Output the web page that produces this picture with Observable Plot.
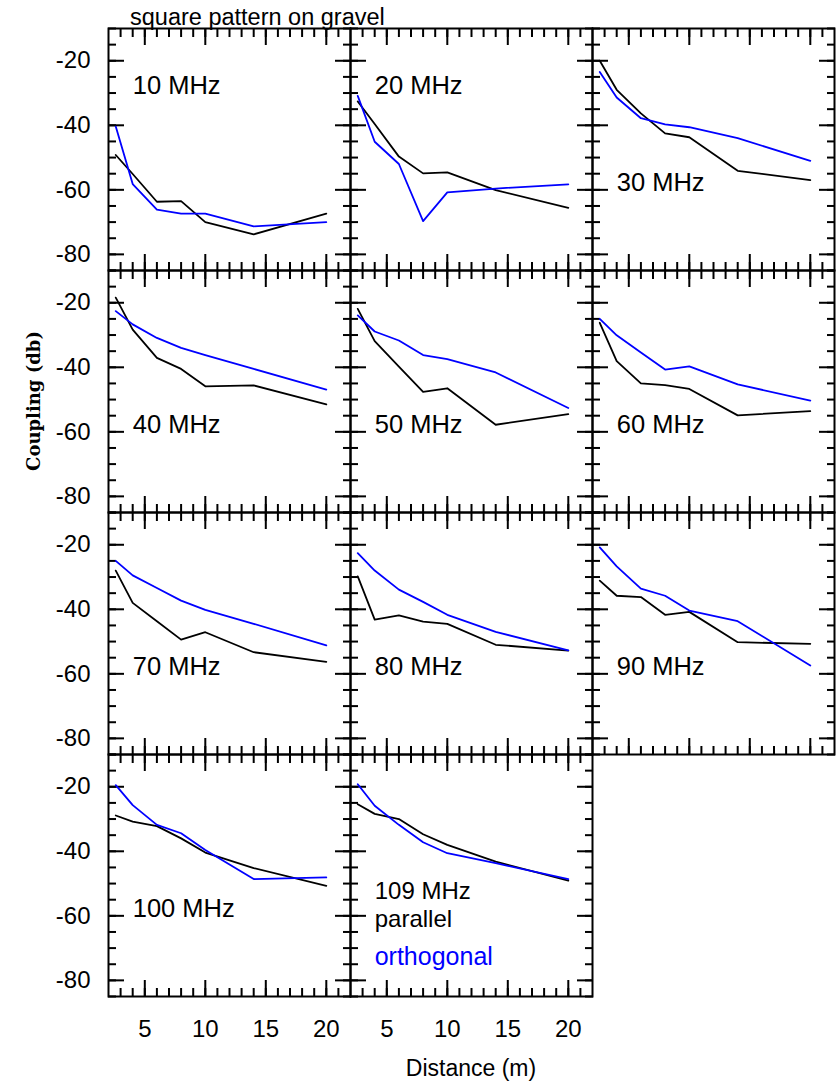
<!DOCTYPE html>
<html><head><meta charset="utf-8">
<script src="https://cdn.jsdelivr.net/npm/d3@7"></script>
<script src="https://cdn.jsdelivr.net/npm/@observablehq/plot@0.6"></script>
<style>
body{margin:0;background:#fff;}
#chart{position:relative;width:836px;height:1087px;font-family:"Liberation Sans",Arial,sans-serif;color:#000;overflow:hidden;}
.title{position:absolute;left:130px;top:6px;font-size:23.5px;line-height:1;white-space:nowrap;}
.ylab{position:absolute;left:33px;top:401px;transform:translate(-50%,-50%) rotate(-90deg);font-family:"DejaVu Serif",serif;font-weight:bold;font-size:18px;color:#000;white-space:nowrap;}
.xlab{position:absolute;left:471px;top:1057px;transform:translateX(-50%);font-size:23px;line-height:1;white-space:nowrap;}
</style></head><body>
<div id="chart">
  <div class="title" id="title"></div>
  <div class="ylab" id="ylab"></div>
  <div class="xlab" id="xlab"></div>
</div>
<script>
// ---- data ----
const titleText = "square pattern on gravel";
const xTitle = "Distance (m)";
const yTitle = "Coupling (db)";
const seriesNames = ["parallel", "orthogonal"];
const freqLabels = ["10 MHz","20 MHz","30 MHz","40 MHz","50 MHz","60 MHz","70 MHz","80 MHz","90 MHz","100 MHz","109 MHz"];
const distance = [2.6, 4, 6, 8, 10, 14, 20];
const xMajorTicks = [5, 10, 15, 20];
const yMajorTicks = [-80, -60, -40, -20];

const par10  = [-49.2, -55.1, -63.7, -63.5, -70.0, -73.8, -67.4];
const orth10 = [-40.4, -58.2, -66.1, -67.4, -67.4, -71.3, -70.0];
const par20  = [-32.6, -39.6, -49.7, -54.9, -54.6, -60.1, -65.6];
const orth20 = [-30.9, -45.1, -52.0, -69.7, -60.8, -59.6, -58.3];
const par30  = [-20.0, -29.0, -36.3, -42.5, -43.7, -54.1, -57.0];
const orth30 = [-23.5, -31.4, -37.8, -39.7, -40.6, -44.0, -51.0];
const par40  = [-18.4, -28.3, -37.1, -40.5, -45.9, -45.6, -51.5];
const orth40 = [-22.6, -26.7, -30.9, -34.0, -36.2, -40.5, -46.9];
const par50  = [-21.9, -31.9, -39.8, -47.6, -46.5, -57.8, -54.5];
const orth50 = [-23.9, -28.9, -31.7, -36.2, -37.5, -41.6, -52.6];
const par60  = [-26.2, -38.1, -45.0, -45.5, -46.7, -54.9, -53.6];
const orth60 = [-25.0, -30.1, -35.4, -40.7, -39.7, -45.3, -50.3];
const par70  = [-28.0, -38.0, -43.7, -49.4, -47.1, -53.3, -56.3];
const orth70 = [-25.0, -29.5, -33.4, -37.3, -40.2, -44.5, -51.2];
const par80  = [-29.8, -43.2, -41.9, -43.8, -44.5, -51.0, -52.8];
const orth80 = [-22.6, -28.0, -33.9, -37.7, -41.7, -47.0, -52.7];
const par90  = [-31.1, -35.8, -36.2, -41.7, -40.8, -50.2, -50.7];
const orth90 = [-20.8, -26.7, -33.6, -35.8, -40.4, -43.7, -57.4];
const par100 = [-28.9, -30.8, -32.2, -36.0, -40.4, -45.2, -50.7];
const orth100= [-19.5, -25.7, -31.8, -34.4, -39.6, -48.6, -48.1];
const par109 = [-25.4, -28.4, -30.0, -34.7, -38.0, -43.2, -49.1];
const orth109= [-19.2, -25.9, -31.8, -37.2, -40.6, -43.7, -48.6];

const parallelSeries = [par10, par20, par30, par40, par50, par60, par70, par80, par90, par100, par109];
const orthogonalSeries = [orth10, orth20, orth30, orth40, orth50, orth60, orth70, orth80, orth90, orth100, orth109];

// ---- layout ----
const chart = document.getElementById("chart");
document.getElementById("title").textContent = titleText;
document.getElementById("xlab").textContent = xTitle;
document.getElementById("ylab").textContent = yTitle;

const W = 242, H = 242, X0 = 108, Y0 = 28;
const xMinor = d3.range(3, 22);
const yMinor = d3.range(-85, -9, 5);
const blue = "#0000ff";
const fmt = d => String(d);

freqLabels.forEach((label, i) => {
  const col = i % 3, row = Math.floor(i / 3);
  const par = distance.map((d, j) => ({d, v: parallelSeries[i][j]}));
  const orth = distance.map((d, j) => ({d, v: orthogonalSeries[i][j]}));
  const isLast = i === freqLabels.length - 1;
  const labelY = (i < 2) ? -27.8 : (isLast ? -52.4 : -57.8);
  const labelSize = isLast ? 24 : 25.5;

  const marks = [
    Plot.frame({stroke: "black", strokeWidth: 2}),
    // inward minor ticks
    Plot.axisY(yMinor, {anchor: "left", tickSize: 8, insetLeft: 8, fill: "none", label: null, strokeWidth: 2}),
    Plot.axisY(yMinor, {anchor: "right", tickSize: 8, insetRight: 8, fill: "none", label: null, strokeWidth: 2}),
    Plot.axisX(xMinor, {anchor: "top", tickSize: 8, insetTop: 8, fill: "none", label: null, strokeWidth: 2}),
    Plot.axisX(xMinor, {anchor: "bottom", tickSize: 8, insetBottom: 8, fill: "none", label: null, strokeWidth: 2}),
    // inward major ticks
    Plot.axisY(yMajorTicks, {anchor: "left", tickSize: 16, insetLeft: 16, fill: "none", label: null, strokeWidth: 2}),
    Plot.axisY(yMajorTicks, {anchor: "right", tickSize: 16, insetRight: 16, fill: "none", label: null, strokeWidth: 2}),
    Plot.axisX(xMajorTicks, {anchor: "top", tickSize: 16, insetTop: 16, fill: "none", label: null, strokeWidth: 2}),
    Plot.axisX(xMajorTicks, {anchor: "bottom", tickSize: 16, insetBottom: 16, fill: "none", label: null, strokeWidth: 2}),
    Plot.line(par, {x: "d", y: "v", stroke: "black", strokeWidth: 1.8}),
    Plot.line(orth, {x: "d", y: "v", stroke: blue, strokeWidth: 1.8}),
    Plot.text([label], {x: 4, y: labelY, text: d => d, textAnchor: "start", lineAnchor: "middle", fontSize: labelSize, fill: "black"})
  ];
  if (isLast) {
    marks.push(Plot.text([seriesNames[0]], {x: 4, y: -61.2, text: d => d, textAnchor: "start", lineAnchor: "middle", fontSize: 24, fill: "black"}));
    marks.push(Plot.text([seriesNames[1]], {x: 4, y: -72.9, text: d => d, textAnchor: "start", lineAnchor: "middle", fontSize: 25, fill: blue}));
  }
  if (col === 0) {
    marks.push(Plot.axisY(yMajorTicks, {anchor: "left", tickSize: 0, tickPadding: 18, label: null, tickFormat: fmt, fontSize: 24}));
  }
  if (row === 3) {
    marks.push(Plot.axisX(xMajorTicks, {anchor: "bottom", tickSize: 0, tickPadding: 23, label: null, tickFormat: fmt, fontSize: 24}));
  }

  const svg = Plot.plot({
    width: W, height: H,
    marginTop: 0, marginRight: 0, marginBottom: 0, marginLeft: 0,
    x: {domain: [2, 22]},
    y: {domain: [-85, -10]},
    style: {background: "transparent", overflow: "visible", fontFamily: "'Liberation Sans', Arial, sans-serif", fontSize: "24px", color: "black"},
    marks
  });
  svg.style.position = "absolute";
  svg.style.left = (X0 + col * W) + "px";
  svg.style.top = (Y0 + row * H) + "px";
  chart.appendChild(svg);
});
</script>
</body></html>
